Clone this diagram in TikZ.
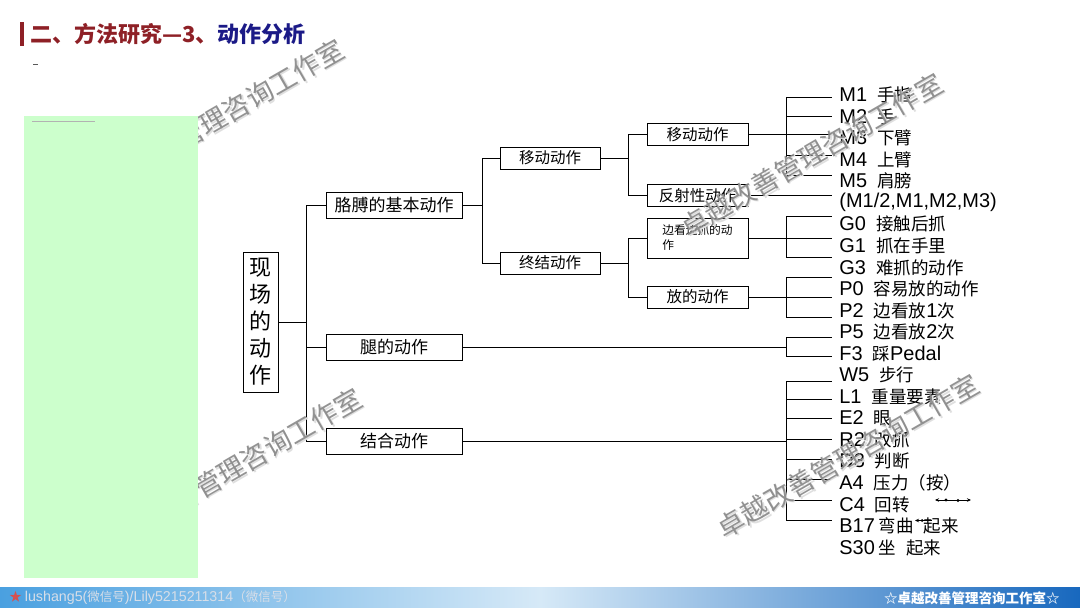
\documentclass[tikz,border=0pt]{standalone}
\usepackage{fontspec}
\setmainfont{Noto Sans CJK SC}
\newfontfamily\latfont{Liberation Sans}[Scale=1.14]
\newcommand\lat[1]{{\latfont #1}}
\newcommand\gap{\hspace{10pt}}
\usetikzlibrary{arrows.meta}
\definecolor{titlered}{RGB}{142,32,38}
\definecolor{titleblue}{RGB}{27,26,135}
\definecolor{padgreen}{RGB}{204,255,204}
\definecolor{barblue}{RGB}{74,160,224}
\definecolor{barlight}{RGB}{214,233,247}
\definecolor{bardark}{RGB}{24,104,190}
\definecolor{wmgray}{RGB}{135,135,135}
\definecolor{footgray}{RGB}{215,222,232}
\definecolor{starred}{RGB}{214,80,80}
\begin{document}
\begin{tikzpicture}[x=1pt, y=-1pt, line width=0.8pt, every node/.style={inner sep=0pt},
  box/.style={draw,fill=white,line width=0.8pt,align=center},
  boxa/.style={box,minimum width=136pt,minimum height=26pt,font=\fontsize{17}{20}\selectfont},
  boxb/.style={box,minimum width=100pt,minimum height=22pt,font=\fontsize{15.5}{18}\selectfont},
  item/.style={anchor=west,font=\fontsize{17.5}{20}\selectfont},
  wmark/.style={rotate=30,font=\fontsize{27}{27}\selectfont}]
\useasboundingbox (0,0) rectangle (1080,608);
\fill[titlered] (20,22) rectangle (24,46);
\node[anchor=west,font=\fontsize{22}{22}\selectfont\bfseries] (title) at (30,34)
  {\textcolor{titlered}{二、方法研究—3、}\textcolor{titleblue}{动作分析}};
\draw[line width=0.6pt,gray!70!black] (33,64) -- (38,64);
% tree
\node[box,minimum width=35pt,minimum height=140pt,font=\fontsize{22}{27}\selectfont] (root) at (260.5,322) {现\\场\\的\\动\\作};
\node[boxa] (arm) at (394,205) {胳膊的基本动作};
\node[boxa] (leg) at (394,347) {腿的动作};
\node[boxa] (comb) at (394,441) {结合动作};
\node[boxb] (mov) at (550,158) {移动动作};
\node[boxb] (term) at (550,263) {终结动作};
\node[boxb,minimum width=101pt] (movb) at (697.5,134.5) {移动动作};
\node[boxb,minimum width=101pt] (refl) at (697.5,195.5) {反射性动作};
\node[box,minimum width=101pt,minimum height=40pt,align=left,font=\fontsize{11.7}{15}\selectfont] (look) at (697.5,238) {边看边抓的动\\作};
\node[boxb,minimum width=101pt] (put) at (697.5,297) {放的动作};
\coordinate (j0) at (306,0);
\coordinate (j1) at (482,0);
\coordinate (j2) at (628,0);
\coordinate (j3) at (786,0);
\coordinate (jt) at (832,0);
\draw (root.east) -- (root.east -| j0);
\draw (arm.west) -- (arm.west -| j0) -- (comb.west -| j0) -- (comb.west);
\draw (leg.west) -- (leg.west -| j0);
\draw (arm.east) -- (arm.east -| j1);
\draw (mov.west) -- (mov.west -| j1) -- (term.west -| j1) -- (term.west);
\draw (mov.east) -- (mov.east -| j2);
\draw (movb.west) -- (movb.west -| j2) -- (refl.west -| j2) -- (refl.west);
\draw (term.east) -- (term.east -| j2);
\draw (look.west) -- (look.west -| j2) -- (put.west -| j2) -- (put.west);
\draw (movb.east) -- (movb.east -| j3);
\draw (refl.east) -- (refl.east -| jt);
\draw (look.east) -- (look.east -| j3);
\draw (put.east) -- (put.east -| j3);
\draw (leg.east) -- (leg.east -| j3);
\draw (comb.east) -- (comb.east -| j3);
\foreach \top/\bot/\ticks in {97/175/{97,116,134.5,155,175}, 216/257/{216,238,257},
    277/317/{277,297,317}, 337/356/{337,356}, 381/520/{381,399,418,439,459,479,500,520}} {
  \draw (786,\top) -- (786,\bot);
  \foreach \y in \ticks \draw (786,\y) -- (832,\y);
}
\foreach \k/\t in {0/{\lat{M1}\gap 手指},1/{\lat{M2}\gap 手},2/{\lat{M3}\gap 下臂},3/{\lat{M4}\gap 上臂},4/{\lat{M5}\gap 肩膀},
    5/{\lat{(M1/2,M1,M2,M3)}},6/{\lat{G0}\gap 接触后抓},7/{\lat{G1}\gap 抓在手里},8/{\lat{G3}\gap 难抓的动作},
    9/{\lat{P0}\gap 容易放的动作},10/{\lat{P2}\gap 边看放\lat{1}次},11/{\lat{P5}\gap 边看放\lat{2}次},12/{\lat{F3}\gap 踩\lat{Pedal}},
    13/{\lat{W5}\gap 步行},14/{\lat{L1}\gap 重量要素},15/{\lat{E2}\gap 眼},16/{\lat{R2}\gap 改抓},17/{\lat{D3}\gap 判断},
    18/{\lat{A4}\gap 压力（按）},19/{\lat{C4}\gap 回转},20/{\lat{B17}\hspace{4pt}弯曲\gap 起来},21/{\lat{S30}\hspace{4pt}坐\gap 起来}}
  \node[item] (it\k) at (839,95+21.55*\k) {\t};
\draw[{Stealth[length=4pt,width=3.5pt]}-{Stealth[length=4pt,width=3.5pt]},line width=0.7pt] (935,500) -- (971,500);
\fill (946,500) circle (1.6) (958,500.5) circle (1.6);
\draw[{Stealth[length=4pt,width=3.5pt]}-,line width=0.7pt] (915,520.5) -- (932,520.5);
\fill (922,520.5) circle (1.5);
% watermarks
\foreach \cx/\cy [count=\n] in {213/121, 812/155, 231/470, 848/456} {
  \node[wmark,text=gray!25] (wms\n) at (\cx+1.5,\cy+1.5) {卓越改善管理咨询工作室};
  \node[wmark,text=wmgray,opacity=0.9] (wm\n) at (\cx,\cy) {卓越改善管理咨询工作室};
}
\fill[padgreen] (24,116) rectangle (198,578);
\draw[gray!60,line width=0.5pt] (32,121) -- (95,121);
% footer
\shade[left color=barblue,right color=bardark,middle color=barlight] (0,587) rectangle (1080,608);
\node[anchor=west,font=\fontsize{12.5}{13}\selectfont] (wechat) at (9,598)
  {\textcolor{starred}{★}\hspace{3pt}\textcolor{footgray}{\lat{lushang5(}微信号\lat{)/Lily5215211314}（微信号）}};
\node[anchor=east,text=white,font=\fontsize{13.5}{14}\selectfont\bfseries] (studio) at (1060,598) {☆卓越改善管理咨询工作室☆};
\end{tikzpicture}
\end{document}
